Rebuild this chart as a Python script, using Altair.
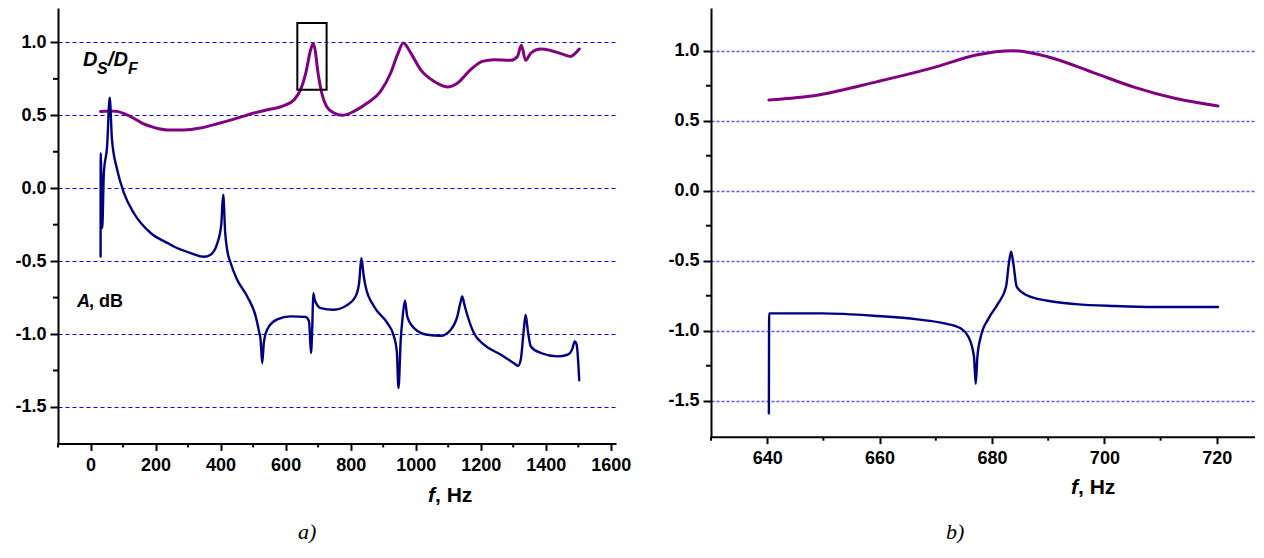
import altair as alt
import pandas as pd

# ---------------- data ----------------
# panel a) : D_S/D_F (purple) and A, dB (navy) versus f, Hz
ds_f = [31, 60, 82, 105, 133, 160, 185, 210, 236, 287, 338, 390, 441, 492, 543, 595, 626, 646,
        662, 677, 685, 692, 697, 711, 726, 749, 774, 810, 851, 892, 923, 944, 962, 985, 1015,
        1056, 1098, 1128, 1169, 1205, 1241, 1292, 1313, 1325, 1338, 1354, 1385, 1415, 1456,
        1475, 1503]
ds_v = [0.527, 0.53, 0.527, 0.51, 0.48, 0.445, 0.424, 0.408, 0.40, 0.40, 0.413, 0.442, 0.474,
        0.509, 0.538, 0.566, 0.607, 0.676, 0.79, 0.95, 0.995, 0.93, 0.835, 0.653, 0.561, 0.516,
        0.50, 0.527, 0.584, 0.664, 0.79, 0.916, 0.996, 0.927, 0.813, 0.733, 0.694, 0.72, 0.813,
        0.87, 0.881, 0.877, 0.904, 0.98, 0.877, 0.927, 0.955, 0.945, 0.916, 0.904, 0.955]

a_f = [31, 31.3, 36, 41, 51, 59, 66, 82, 103, 133, 185, 236, 256, 308, 349, 369, 390, 402, 408,
       414, 420, 431, 451, 482, 508, 518, 523, 528, 533, 543, 574, 615, 662, 672, 678, 682,
       685, 690, 708, 748, 790, 815, 826, 833, 840, 846, 872, 913, 933, 942, 947, 954, 960,
       967, 974, 995, 1036, 1077, 1108, 1128, 1138, 1143, 1150, 1154, 1179, 1210, 1262, 1302,
       1315, 1323, 1332, 1338, 1345, 1354, 1385, 1436, 1467, 1482, 1489, 1495, 1503]
a_v = [-0.468, 0.241, -0.273, 0.104, 0.287, 0.62, 0.333, 0.127, -0.033, -0.17, -0.307, -0.375,
       -0.40, -0.445, -0.47, -0.456, -0.376, -0.25, -0.045, -0.30, -0.42, -0.513, -0.628,
       -0.742, -0.879, -0.98, -1.04, -1.2, -1.06, -0.97, -0.90, -0.879, -0.883, -0.913, -1.13,
       -0.95, -0.72, -0.77, -0.822, -0.833, -0.8, -0.742, -0.65, -0.479, -0.60, -0.674, -0.811,
       -0.925, -1.016, -1.12, -1.37, -1.04, -0.88, -0.77, -0.879, -0.959, -1.005, -1.012,
       -0.97, -0.879, -0.78, -0.742, -0.80, -0.833, -0.993, -1.073, -1.142, -1.2, -1.218,
       -1.177, -0.98, -0.868, -0.98, -1.085, -1.13, -1.153, -1.142, -1.1, -1.051, -1.073,
       -1.318]

# zoom frame drawn in panel a)
box_f = [636, 726]
box_v = [0.676, 1.133]

# panel b) : zoom 640..720 Hz
ds2_f = [640.3, 649.1, 659.6, 670.2, 677.2, 683.6, 689.9, 698.4, 705.4, 712.5, 720.2]
ds2_v = [0.648, 0.684, 0.779, 0.886, 0.969, 1.0, 0.957, 0.838, 0.738, 0.66, 0.605]

a2_f = [640.3, 640.35, 649.7, 659.6, 666.7, 671.6, 674.4, 675.8, 676.8, 677.1, 677.4, 678.0,
        679.4, 681.1, 682.5, 683.0, 683.4, 683.8, 684.4, 686.1, 689.9, 694.9, 701.9, 709.0,
        720.2]
a2_v = [-1.59, -0.876, -0.876, -0.895, -0.919, -0.948, -0.983, -1.043, -1.186, -1.38, -1.186,
        -1.043, -0.912, -0.805, -0.686, -0.52, -0.436, -0.52, -0.686, -0.745, -0.786, -0.81,
        -0.824, -0.831, -0.831]

# axes
y_major = [-1.5, -1.0, -0.5, 0.0, 0.5, 1.0]
y_minor = [-1.25, -0.75, -0.25, 0.25, 0.75]
xa_major = [0, 200, 400, 600, 800, 1000, 1200, 1400, 1600]
xa_minor = [-100, 100, 300, 500, 700, 900, 1100, 1300, 1500]
xb_major = [640, 660, 680, 700, 720]
xb_minor = [630, 650, 670, 690, 710]

# ---------------- styling ----------------
FONT = "Liberation Sans"
PURPLE = "#800080"
NAVY = "#000080"

LW, LH = 558, 435.4
RW, RH = 544, 428.7


def df(f, v):
    return pd.DataFrame({"f": f, "v": v, "i": list(range(len(f)))})


def y_axis(grid_color, dash, gw):
    return alt.Axis(
        values=y_major,
        labelExpr="datum.value < 0 ? '-' + format(-datum.value, '.1f') : format(datum.value, '.1f')",
        labelFont=FONT, labelFontSize=18, labelFontWeight="bold", labelColor="black",
        labelPadding=4, tickSize=8, tickWidth=2, tickColor="black",
        domainColor="black", domainWidth=2,
        grid=True, gridColor=grid_color, gridDash=dash, gridWidth=gw,
        title=None, minExtent=45, maxExtent=45, labelOverlap=False,
    )


def x_axis(values):
    return alt.Axis(
        values=values, format="d", labelFlush=False, labelOverlap=False,
        labelFont=FONT, labelFontSize=18, labelFontWeight="bold", labelColor="black",
        labelPadding=6, tickSize=7, tickWidth=2, tickColor="black",
        domainColor="black", domainWidth=2, grid=False, title=None,
    )


def text(txt, x, y, size=18, style="normal", weight="bold", font=FONT):
    return alt.Chart(pd.DataFrame({"t": [txt]})).mark_text(
        align="left", baseline="alphabetic", font=font, fontSize=size,
        fontStyle=style, fontWeight=weight, color="black",
    ).encode(x=alt.value(x), y=alt.value(y), text="t:N")


def panel(xs, ys, xax, yax, lines, minor_x, w, h, extra):
    X = lambda field: alt.X(field, type="quantitative", scale=xs, axis=xax)
    Y = lambda field: alt.Y(field, type="quantitative", scale=ys, axis=yax)
    layers = []
    for data, color, width, interp in lines:
        layers.append(
            alt.Chart(data).mark_line(color=color, strokeWidth=width, interpolate=interp,
                                      strokeJoin="round", strokeCap="round")
            .encode(x=X("f"), y=Y("v"), order="i:Q")
        )
    # minor ticks on y
    layers.append(
        alt.Chart(pd.DataFrame({"v": y_minor})).mark_rule(color="black", strokeWidth=2)
        .encode(y=Y("v"), x=alt.value(-5), x2=alt.value(0))
    )
    # minor ticks on x
    layers.append(
        alt.Chart(pd.DataFrame({"f": minor_x})).mark_rule(color="black", strokeWidth=2)
        .encode(x=X("f"), y=alt.value(h), y2=alt.value(h + 4))
    )
    layers.extend(extra(X, Y))
    return alt.layer(*layers).properties(width=w, height=h)


# panel a
xs_a = alt.Scale(domain=[-100, 1616], nice=False, zero=False)
ys_a = alt.Scale(domain=[-1.75, 1.236], nice=False, zero=False)


def extra_a(X, Y):
    box = pd.DataFrame({"f1": [box_f[0]], "f2": [box_f[1]], "v1": [box_v[0]], "v2": [box_v[1]]})
    return [
        alt.Chart(box).mark_rect(fill=None, fillOpacity=0, stroke="black", strokeWidth=2)
        .encode(x=X("f1"), x2="f2", y=Y("v1"), y2="v2"),
        text("D", 25, 58, 20, "italic"),
        text("S", 39, 66, 16, "italic"),
        text("/D", 50, 58, 20, "italic"),
        text("F", 70, 66, 16, "italic"),
        text("A", 19, 299, 18, "italic"),
        text(", dB", 31, 299, 18),
        text("f", 370, 494, 21, "italic"),
        text(", Hz", 377, 494, 21),
        text("a)", 240, 531, 22, "italic", "normal", "Liberation Serif"),
    ]


left = panel(
    xs_a, ys_a, x_axis(xa_major), y_axis("#0000ff", [4, 3], 1),
    [(df(ds_f, ds_v), PURPLE, 3, "monotone"), (df(a_f, a_v), NAVY, 2.4, "monotone")],
    xa_minor, LW, LH, extra_a,
)

# panel b
xs_b = alt.Scale(domain=[630, 726.8], nice=False, zero=False)
ys_b = alt.Scale(domain=[-1.757, 1.305], nice=False, zero=False)


def extra_b(X, Y):
    return [
        text("f", 360, 486, 21, "italic"),
        text(", Hz", 367, 486, 21),
        text("b)", 235, 531, 22, "italic", "normal", "Liberation Serif"),
    ]


right = panel(
    xs_b, ys_b, x_axis(xb_major), y_axis("#5a5aff", [3, 2], 1.3),
    [(df(ds2_f, ds2_v), PURPLE, 3, "monotone"), (df(a2_f, a2_v), NAVY, 2.4, "monotone")],
    xb_minor, RW, RH, extra_b,
)

chart = alt.hconcat(left, right, spacing=35).properties(
    padding={"left": 5, "top": 0, "right": 0, "bottom": 0},
    background="white",
).configure_view(stroke=None)

chart.save("out.html", embed_options={"renderer": "svg", "actions": False})
